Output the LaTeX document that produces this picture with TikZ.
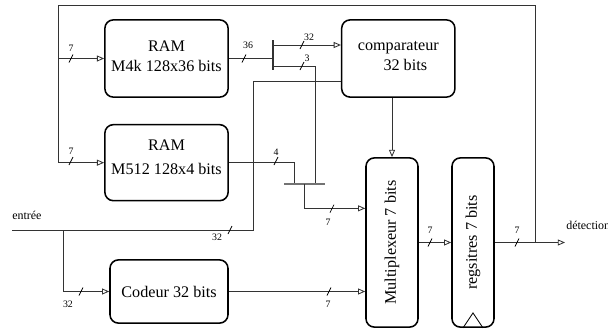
\documentclass[tikz,border=0pt]{standalone}
\usepackage{fontspec}
\setmainfont{Liberation Serif}
\usetikzlibrary{arrows.meta, positioning, calc}
\tikzset{
	blk/.style  ={rectangle, rounded corners=6pt, draw=black, line width=1.1pt, align=center, inner sep=1pt, font=\fontsize{11.5}{14}\selectfont},
	wire/.style ={draw=black!80, line width=0.6pt},
	sig/.style  ={wire, -{Triangle[open, length=1.8mm, width=1.5mm]}},
	busbar/.style={draw=black!55, line width=1.4pt},
	tick/.style ={draw=black, line width=0.5pt},
	lbl/.style  ={font=\fontsize{7}{8}\selectfont, inner sep=0pt},
	iotext/.style={font=\fontsize{8.5}{10}\selectfont, inner sep=0pt},
}
% bus width mark: slash position, label position, label
\newcommand{\buswd}[3]{\draw[tick] ($(#1)+(-2,4)$) -- ($(#1)+(2,-4)$); \node[lbl] at (#2) {#3};}

\begin{document}
\begin{tikzpicture}[x=0.025cm, y=-0.025cm]
	\useasboundingbox (0,0) rectangle (608,330);
	% blocks
	\node[blk, minimum width=3.08cm, minimum height=1.93cm, text depth=3pt] (ram1) at (166.5,58.5) {RAM\\M4k 128x36 bits};
	\node[blk, minimum width=3.08cm, minimum height=1.9cm, text depth=8pt, below=0.65cm of ram1] (ram2) {RAM\\[3pt]M512 128x4 bits};
	\node[blk, minimum width=2.83cm, minimum height=1.93cm, text depth=4pt, right=2.8cm of ram1] (comp) {comparateur\\\hspace*{10pt}32 bits};
	\node[blk, minimum width=2.95cm, minimum height=1.58cm] (cod) at (169,291.5) {Codeur 32 bits};
	\node[blk, minimum width=1.3cm, minimum height=4.23cm] (mux) at (392,242.5) {\rotatebox{90}{Multiplexeur 7 bits}};
	\node[blk, minimum width=1.05cm, minimum height=4.23cm] (reg) at (473,242.5) {\rotatebox{90}{regsitres 7 bits}};
	\draw[line width=0.6pt] ($(reg.south)+(-10,0)$) -- ($(reg.south)+(0,-15)$) -- ($(reg.south)+(10,0)$);
	% points
	\coordinate (fb) at (535,242.5);
	\coordinate (tr) at (535,5);
	\coordinate (tl) at (58,5);
	\coordinate (det) at (565,242.5);
	\coordinate (sp36) at (273,58.5);
	\coordinate (b32) at (273,45);
	\coordinate (b3) at (273,66);
	\coordinate (bus3) at (315,184);
	\coordinate (bus4) at (294,184);
	\coordinate (busout) at (304,184);
	\coordinate (muxA) at ($(mux.north west)!0.3!(mux.south west)$);
	\coordinate (compB) at ($(comp.north west)!0.79!(comp.south west)$);
	\coordinate (in) at (12,230);
	\coordinate (inJ) at (63,230);
	\coordinate (inR) at (253,230);
	% feedback loop
	\draw[wire] (fb) -- (tr) -- (tl);
	\draw[sig] (tl) |- (ram2.west);
	\draw[sig] (tl |- ram1.west) -- (ram1.west);
	% RAM M4k output split
	\draw[wire] (ram1.east) -- (sp36);
	\draw[wire, line width=0.9pt] (273,40) -- (273,70);
	\draw[sig] (b32) -- (b32 -| comp.west);
	\draw[wire] (b3) -| (bus3);
	% RAM M512 output and bus
	\draw[wire] (ram2.east) -| (bus4);
	\draw[busbar] (284,184) -- (325,184);
	\draw[sig] (busout) |- (muxA);
	% input
	\draw[wire] (in) -- (inR) |- (compB);
	\draw[sig] (inJ) |- (cod.west);
	\draw[sig] (cod.east) -- (cod.east -| mux.west);
	\draw[sig] (mux.north |- comp.south) -- (mux.north);
	\draw[sig] (mux.east) -- (reg.west);
	\draw[sig] (reg.east) -- (det);
	% texts
	\node[iotext, anchor=base west] at (12,219) {entrée};
	\node[iotext, anchor=base west] at (566,229) {détection};
	% bus widths
	\buswd{71,58.5}{71,48.5}{7}
	\buswd{71,161}{71,151}{7}
	\buswd{244,58.5}{248,45.5}{36}
	\buswd{302,45}{309,37}{32}
	\buswd{302,66}{307,58}{3}
	\buswd{276,161}{276,152}{4}
	\buswd{332,208.7}{328,222}{7}
	\buswd{329,291.5}{328,304}{7}
	\buswd{230,230}{217,237}{32}
	\buswd{81,291.5}{68,304}{32}
	\buswd{430,242.5}{430,230}{7}
	\buswd{517,242.5}{517,230}{7}
\end{tikzpicture}
\end{document}
